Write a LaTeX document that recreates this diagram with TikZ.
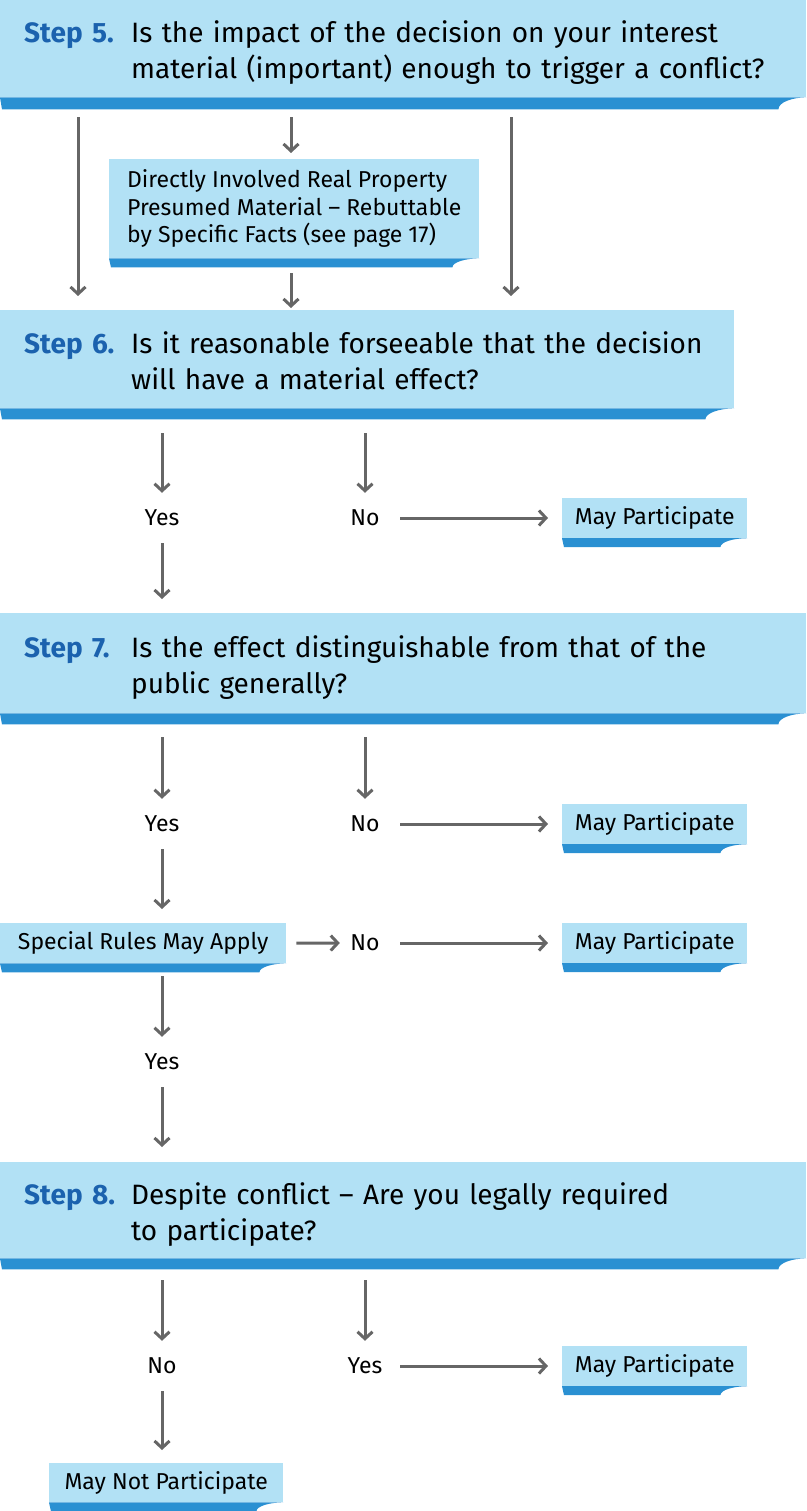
\documentclass[tikz,border=0pt]{standalone}
\usepackage{fontspec}
\setmainfont{Fira Sans}
\usetikzlibrary{arrows.meta, positioning, calc}

\definecolor{boxblue}{HTML}{B2E1F5}
\definecolor{bandblue}{HTML}{2A90D2}
\definecolor{stepblue}{HTML}{1B62AE}
\definecolor{arrowgray}{HTML}{666666}

\newcommand{\steptxt}{\fontsize{28}{36}\selectfont}
\newcommand{\boxtxt}{\fontsize{23}{27.5}\selectfont}
\newcommand{\steplabel}[1]{\makebox[107pt][l]{\bfseries\color{stepblue}#1}}
% step label and question, set a little lower than the box centre
\newcommand{\question}[2]{\raisebox{-5pt}[\height][\depth]{\steplabel{#1}\begin{tabular}[t]{@{}l@{}}#2\end{tabular}}}

% dark band with the curled corner under a box: node, band height, curl width
\newcommand{\band}[3]{%
  \fill[bandblue] (#1.south west) -- (#1.south east)
    .. controls +(-#3pt*0.5,0pt) and +(0pt,#2pt*0.6) .. ([shift={(-#3pt,-#2pt)}]#1.south east)
    -- ([shift={(2pt,-#2pt)}]#1.south west) -- cycle;}

\begin{document}
\begin{tikzpicture}[x=1pt, y=-1pt,
    stepbox/.style={fill=boxblue, anchor=north west, inner xsep=24pt, inner ysep=0pt,
      align=left, font=\steptxt},
    notebox/.style={fill=boxblue, anchor=north west, inner sep=0pt, align=left, font=\boxtxt},
    answer/.style={minimum width=70pt, minimum height=50pt, inner sep=0pt, font=\boxtxt},
    arr/.style={draw=arrowgray, line width=3pt, -{Straight Barb[length=7pt,width=15pt]}}]

    \useasboundingbox (0,0) rectangle (806,1511);

    % Step 5
    \node[stepbox, text width=758pt, minimum height=97pt] (s5) at (0,0)
        {\question{Step 5.}{Is the impact of the decision on your interest\\material (important) enough to trigger a conflict?}};
    \band{s5}{12}{28}

    \node[notebox, minimum width=370pt, minimum height=99pt] (dirb) at (109,159)
        {Directly Involved Real Property\\Presumed Material -- Rebuttable\\by Specific Facts (see page 17)};
    \band{dirb}{9}{27}

    \coordinate (c5l) at (78,0);
    \coordinate (c5m) at (291,0);
    \coordinate (c5r) at (511,0);

    % Step 6
    \node[stepbox, text width=686pt, minimum height=98pt] (s6) at (0,310)
        {\question{Step 6.}{Is it reasonable forseeable that the decision\\will have a material effect?}};
    \band{s6}{11}{29}

    \draw[arr, shorten <=20pt, shorten >=14pt] (s5.south -| c5l) -- (s6.north -| c5l);
    \draw[arr, shorten <=20pt, shorten >=6pt] (s5.south -| c5m) -- (dirb.north -| c5m);
    \draw[arr, shorten <=15pt, shorten >=2pt] (dirb.south -| c5m) -- (s6.north -| c5m);
    \draw[arr, shorten <=20pt, shorten >=14pt] (s5.south -| c5r) -- (s6.north -| c5r);

    \node[answer] (yes6) at (162,518) {Yes};
    \node[answer] (no6) at (365,518) {No};
    \node[notebox, anchor=west, minimum width=185pt, minimum height=40pt] (mp6) at (562,518) {May Participate};
    \band{mp6}{9}{27}

    \draw[arr, shorten <=25pt] (s6.south -| yes6) -- (yes6);
    \draw[arr, shorten <=25pt] (s6.south -| no6) -- (no6);
    \draw[arr, shorten >=14pt] (no6) -- (mp6);

    % Step 7
    \node[stepbox, text width=758pt, minimum height=100pt] (s7) at (0,613)
        {\question{Step 7.}{Is the effect distinguishable from that of the\\public generally?}};
    \band{s7}{11}{28}

    \draw[arr, shorten >=14pt] (yes6) -- (s7.north -| yes6);

    \node[answer] (yes7) at (162,824) {Yes};
    \node[answer] (no7) at (365,824) {No};
    \node[notebox, anchor=west, minimum width=185pt, minimum height=40pt] (mp7) at (562,824) {May Participate};
    \band{mp7}{9}{27}

    \draw[arr, shorten <=24pt] (s7.south -| yes7) -- (yes7);
    \draw[arr, shorten <=24pt] (s7.south -| no7) -- (no7);
    \draw[arr, shorten >=14pt] (no7) -- (mp7);

    \node[notebox, minimum width=286pt, minimum height=40pt] (sr) at (0,923) {Special Rules May Apply};
    \band{sr}{9}{27}
    \node[answer] (no7b) at (365,943) {No};
    \node[notebox, anchor=west, minimum width=185pt, minimum height=40pt] (mp7b) at (562,943) {May Participate};
    \band{mp7b}{9}{27}
    \node[answer] (yes7b) at (162,1062) {Yes};

    \draw[arr, shorten >=14pt] (yes7) -- (sr.north -| yes7);
    \draw[arr, shorten <=10pt, shorten >=-10pt] (sr) -- (no7b);
    \draw[arr, shorten >=14pt] (no7b) -- (mp7b);
    \draw[arr, shorten <=13pt] (sr.south -| yes7b) -- (yes7b);

    % Step 8
    \node[stepbox, text width=758pt, minimum height=96pt] (s8) at (0,1162)
        {\question{Step 8.}{Despite conflict -- Are you legally required\\to participate?}};
    \band{s8}{11}{28}

    \draw[arr, shorten >=15pt] (yes7b) -- (s8.north -| yes7b);

    \node[answer] (no8) at (162,1366) {No};
    \node[answer] (yes8) at (365,1366) {Yes};
    \node[notebox, anchor=west, minimum width=185pt, minimum height=40pt] (mp8) at (562,1366) {May Participate};
    \band{mp8}{9}{27}
    \node[notebox, minimum width=234pt, minimum height=39pt] (mnp) at (49,1463) {May Not Participate};
    \band{mnp}{9}{27}

    \draw[arr, shorten <=22pt] (s8.south -| no8) -- (no8);
    \draw[arr, shorten <=22pt] (s8.south -| yes8) -- (yes8);
    \draw[arr, shorten >=14pt] (yes8) -- (mp8);
    \draw[arr, shorten >=13pt] (no8) -- (mnp.north -| no8);
\end{tikzpicture}
\end{document}
